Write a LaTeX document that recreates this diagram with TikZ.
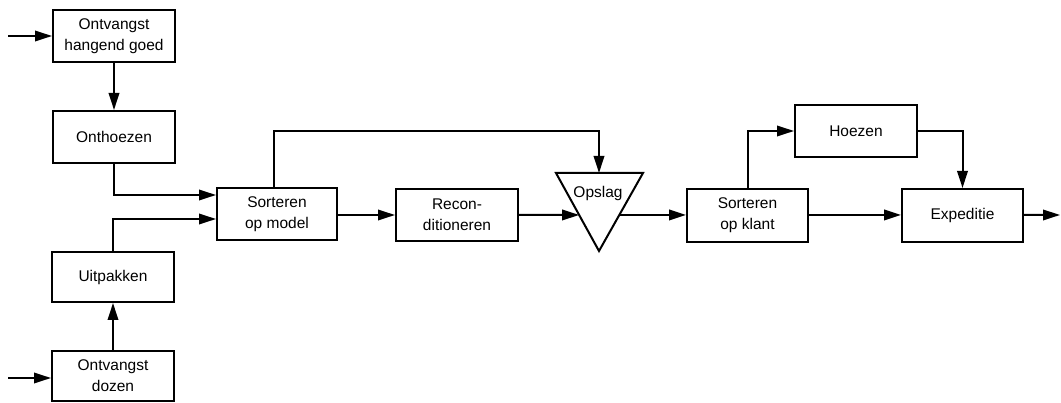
\documentclass[tikz,border=0pt]{standalone}
\usepackage{fontspec}
\setmainfont{Liberation Sans}
\usetikzlibrary{arrows.meta,calc}
\begin{document}
\begin{tikzpicture}[x=1pt,y=-1pt,
  proc/.style={draw,line width=2pt,minimum width=122pt,minimum height=52pt,
    inner sep=0pt,align=center,font=\fontsize{15.5}{21}\selectfont},
  flow/.style={line width=2pt,-{Triangle[length=17pt,width=10.5pt]}},
  link/.style={line width=2pt}]
\useasboundingbox (0,0) rectangle (1061,403);

% process boxes
\node[proc] (hang) at (114,36) {Ontvangst\\hangend goed};
\node[proc] (onth) at (114,137) {Onthoezen};
\node[proc,minimum height=50pt] (uitp) at (113,277) {Uitpakken};
\node[proc,minimum height=50pt] (doz) at (113,376) {Ontvangst\\dozen};
\node[proc,minimum width=120pt] (som) at (277,214.5) {Sorteren\\op model};
\node[proc] (rec) at (457,215) {Recon-\\ditioneren};
\node[proc,minimum width=121pt,minimum height=53pt] (kla) at (747.5,215.5) {Sorteren\\op klant};
\node[proc] (hoe) at (856,131) {Hoezen};
\node[proc,minimum width=121pt,minimum height=53pt] (exp) at (962.5,215.5) {Expeditie};

% storage triangle
\coordinate (tl) at (556,173);
\coordinate (tr) at (643,173);
\coordinate (ap) at (599,251);
\draw[line width=2pt,line join=miter] (tl) -- (tr) -- (ap) -- cycle;
\node[font=\fontsize{15.5}{21}\selectfont] (opslag) at (598,193) {Opslag};
\coordinate (opTop) at (599,173);
\coordinate (opIn) at ($(tl)!0.538!(ap)$);
\coordinate (opOut) at ($(tr)!0.538!(ap)$);

% free ends
\coordinate (in1) at (8,36);
\coordinate (in2) at (8,378);
\coordinate (out) at (1060,215);

% connectors
\draw[flow] (in1) -- (hang.west);
\draw[flow] (hang.south) -- (onth.north);
\draw[flow] (onth.south) |- ([yshift=19.5pt]som.west);
\draw[flow] (in2) -- (doz.west |- in2);
\draw[flow] (doz.north) -- (uitp.south);
\draw[flow] (uitp.north) |- ([yshift=-4.5pt]som.west);
\draw[flow] (som.east |- rec.east) -- (rec.west);
\draw[flow] (rec.east) -- (opIn);
\draw[flow] ([xshift=-3pt]som.north) -- ++(0,-56) -| (opTop);
\draw[flow] (opOut) -- (kla.west |- opOut);
\draw[flow] (kla.north) |- (hoe.west);
\draw[flow] (hoe.east) -| (exp.north);
\draw[flow] (kla.east |- opOut) -- (exp.west |- opOut);
\draw[flow] (exp.east |- opOut) -- (out);
\end{tikzpicture}
\end{document}
